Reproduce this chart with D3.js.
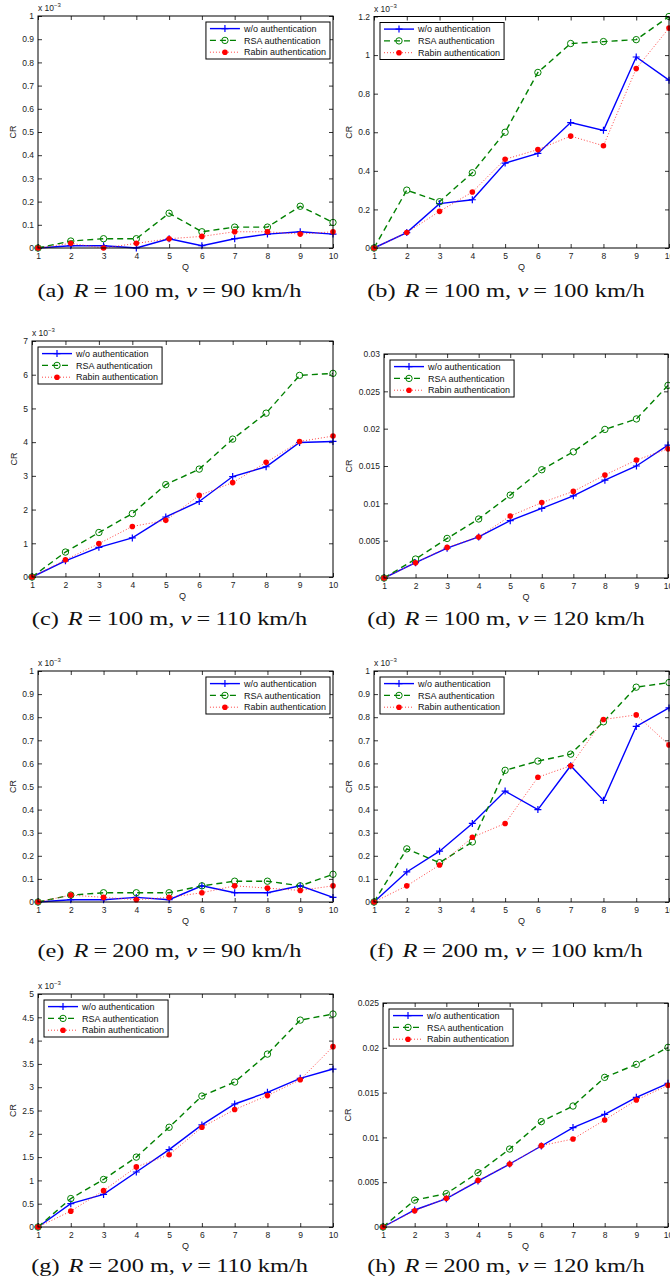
<!DOCTYPE html>
<html><head><meta charset="utf-8">
<script src="https://cdn.jsdelivr.net/npm/d3@7"></script>
<style>
body{margin:0;background:#fff}
svg{display:block}
.tick text{font-family:"Liberation Sans",Arial,sans-serif;font-size:8.5px;fill:#222}
.lbl{font-family:"Liberation Sans",Arial,sans-serif;font-size:9px;fill:#222}
.leg{font-family:"Liberation Sans",Arial,sans-serif;font-size:9px;fill:#111}
.cap{font-family:"Liberation Serif","Times New Roman",serif;font-size:19px;fill:#111}
</style>
</head><body>
<svg id="chart" width="670" height="1280"></svg>
<script>
// ---------------- data ----------------
const qValues = [1,2,3,4,5,6,7,8,9,10];
const seriesNames = ["w/o authentication","RSA authentication","Rabin authentication"];
const panelIds = ["a","b","c","d","e","f","g","h"];
const radiusM = [100,100,100,100,200,200,200,200];
const speedKmh = [90,100,110,120,90,100,110,120];
const yExponent = [-3,-3,-3,0,-3,-3,-3,0];
const yTicks = [
  [0,0.1,0.2,0.3,0.4,0.5,0.6,0.7,0.8,0.9,1],
  [0,0.2,0.4,0.6,0.8,1,1.2],
  [0,1,2,3,4,5,6,7],
  [0,0.005,0.01,0.015,0.02,0.025,0.03],
  [0,0.1,0.2,0.3,0.4,0.5,0.6,0.7,0.8,0.9,1],
  [0,0.1,0.2,0.3,0.4,0.5,0.6,0.7,0.8,0.9,1],
  [0,0.5,1,1.5,2,2.5,3,3.5,4,4.5,5],
  [0,0.005,0.01,0.015,0.02,0.025]
];
const woAuth = [
  [0,0.01,0.01,0,0.04,0.01,0.04,0.06,0.07,0.06],
  [0,0.08,0.23,0.25,0.44,0.49,0.65,0.61,0.99,0.87],
  [0,0.48,0.88,1.16,1.78,2.24,2.98,3.27,3.99,4.02],
  [0,0.00205,0.0040,0.0055,0.00768,0.00933,0.0110,0.0131,0.0150,0.0178],
  [0,0.01,0.01,0.02,0.01,0.07,0.04,0.04,0.07,0.02],
  [0,0.13,0.22,0.34,0.48,0.40,0.59,0.44,0.76,0.84],
  [0,0.50,0.70,1.18,1.66,2.19,2.64,2.89,3.19,3.39],
  [0,0.0019,0.00316,0.00513,0.00703,0.00904,0.0111,0.01257,0.01447,0.01603]
];
const rsaAuth = [
  [0,0.03,0.04,0.04,0.15,0.07,0.09,0.09,0.18,0.11],
  [0,0.30,0.24,0.39,0.60,0.91,1.06,1.07,1.08,1.20],
  [0,0.74,1.32,1.88,2.74,3.20,4.09,4.86,5.98,6.04],
  [0,0.00254,0.0053,0.0079,0.0111,0.0145,0.0169,0.0199,0.0213,0.0258],
  [0,0.03,0.04,0.04,0.04,0.07,0.09,0.09,0.07,0.12],
  [0,0.23,0.17,0.26,0.57,0.61,0.64,0.78,0.93,0.95],
  [0,0.61,1.02,1.50,2.14,2.81,3.11,3.71,4.44,4.57],
  [0,0.0030,0.00372,0.00606,0.0087,0.01176,0.0135,0.0167,0.01815,0.02005]
];
const rabinAuth = [
  [0,0.02,0,0.02,0.04,0.05,0.07,0.07,0.06,0.07],
  [0,0.08,0.19,0.29,0.46,0.51,0.58,0.53,0.93,1.14],
  [0,0.51,0.99,1.50,1.68,2.42,2.80,3.40,4.02,4.18],
  [0,0.00205,0.0041,0.0055,0.0083,0.0101,0.0116,0.0138,0.0158,0.0173],
  [0,0.03,0.02,0.01,0.02,0.04,0.07,0.06,0.05,0.07],
  [0,0.07,0.16,0.28,0.34,0.54,0.59,0.79,0.81,0.68],
  [0,0.34,0.78,1.29,1.55,2.14,2.52,2.82,3.16,3.87],
  [0,0.00182,0.0032,0.0052,0.00703,0.00908,0.00982,0.01194,0.01417,0.01581]
];

// ---------------- layout ----------------
const layout = [
  {l:38, t:16,  r:333, b:248,  leg:"right", cx:169.5, cap:297},
  {l:374,t:16.5,r:669, b:248,  leg:"left",  cx:506,   cap:297},
  {l:32, t:341, r:333, b:577,  leg:"left",  cx:169.5, cap:625},
  {l:384,t:354, r:668, b:578,  leg:"left",  cx:506,   cap:625},
  {l:38, t:671, r:333, b:902,  leg:"right", cx:169.5, cap:957},
  {l:374,t:671, r:669, b:902,  leg:"left",  cx:506,   cap:957},
  {l:38, t:994, r:333, b:1227, leg:"left",  cx:169.5, cap:1272},
  {l:383,t:1003,r:668, b:1227, leg:"left",  cx:506,   cap:1272}
];
const colors = ["#0000ff","#008000","#ff0000"];
const fmt = v => String(+v.toFixed(6));

const svg = d3.select("#chart");

function marker(g, k, px, py){
  if(k===0){
    g.append("path").attr("d",`M${px-3.5},${py}H${px+3.5}M${px},${py-3.5}V${py+3.5}`)
      .attr("stroke",colors[0]).attr("stroke-width",1.2).attr("fill","none");
  } else if(k===1){
    g.append("circle").attr("cx",px).attr("cy",py).attr("r",3.2)
      .attr("fill","none").attr("stroke",colors[1]).attr("stroke-width",1);
  } else {
    g.append("circle").attr("cx",px).attr("cy",py).attr("r",2.8).attr("fill",colors[2]);
  }
}
function styleLine(sel,k){
  if(k===0) sel.attr("stroke",colors[0]).attr("stroke-width",1.4);
  else if(k===1) sel.attr("stroke",colors[1]).attr("stroke-width",1.4).attr("stroke-dasharray","6,4");
  else sel.attr("stroke","#ff3030").attr("stroke-width",0.9).attr("stroke-dasharray","1,2");
}

const capGroups = [];

layout.forEach((p,i)=>{
  const g = svg.append("g");
  const ticks = yTicks[i];
  const x = d3.scaleLinear().domain([1,10]).range([p.l,p.r]);
  const y = d3.scaleLinear().domain([0,ticks[ticks.length-1]]).range([p.b,p.t]);

  // axes with inward ticks on all four sides
  const ab = g.append("g").attr("transform",`translate(0,${p.b})`)
    .call(d3.axisBottom(x).tickValues(qValues).tickSizeInner(-4).tickSizeOuter(0).tickPadding(4.5));
  const at = g.append("g").attr("transform",`translate(0,${p.t})`)
    .call(d3.axisTop(x).tickValues(qValues).tickSizeInner(-4).tickSizeOuter(0).tickFormat(""));
  const al = g.append("g").attr("transform",`translate(${p.l},0)`)
    .call(d3.axisLeft(y).tickValues(ticks).tickSizeInner(-4).tickSizeOuter(0).tickPadding(4).tickFormat(fmt));
  const ar = g.append("g").attr("transform",`translate(${p.r},0)`)
    .call(d3.axisRight(y).tickValues(ticks).tickSizeInner(-4).tickSizeOuter(0).tickFormat(""));
  [ab,at,al,ar].forEach(a=>{
    a.attr("font-size",null).attr("font-family",null);
    a.select(".domain").remove();
    a.selectAll(".tick line").attr("stroke","#000").attr("stroke-width",0.8);
  });

  // series
  const series = [woAuth[i], rsaAuth[i], rabinAuth[i]];
  const line = d3.line().x((d,j)=>x(qValues[j])).y(d=>y(d));
  series.forEach((s,k)=>{
    const path = g.append("path").datum(s).attr("d",line).attr("fill","none");
    styleLine(path,k);
  });
  series.forEach((s,k)=>{
    s.forEach((v,j)=>marker(g,k,x(qValues[j]),y(v)));
  });

  // box
  g.append("rect").attr("x",p.l).attr("y",p.t).attr("width",p.r-p.l).attr("height",p.b-p.t)
    .attr("fill","none").attr("stroke","#000").attr("stroke-width",1);

  // exponent label
  if(yExponent[i]!==0){
    const t = g.append("text").attr("class","lbl").attr("x",p.l).attr("y",p.t-5).style("font-size","8.5px");
    t.append("tspan").text("x 10");
    t.append("tspan").attr("dy",-4).style("font-size","6px").text(String(yExponent[i]).replace("-","\u2212"));
  }

  // axis labels
  g.append("text").attr("class","lbl").attr("x",(p.l+p.r)/2).attr("y",p.b+22)
    .attr("text-anchor","middle").text("Q");
  const bb = al.node().getBBox();
  const crx = p.l + bb.x - 9.5;
  g.append("text").attr("class","lbl").attr("transform",`translate(${crx},${(p.t+p.b)/2}) rotate(-90)`)
    .attr("text-anchor","middle").attr("dy","0.35em").text("CR");

  // legend
  const lg = g.append("g");
  const rowH = 11.8, boxH = 37;
  const texts = seriesNames.map((n,k)=>lg.append("text").attr("class","leg").attr("x",38).attr("y",6.6+k*rowH).attr("dy","0.35em").text(n));
  const tw = d3.max(texts, t=>t.node().getComputedTextLength());
  const boxW = 38 + tw + 4;
  lg.insert("rect",":first-child").attr("x",0).attr("y",0).attr("width",boxW).attr("height",boxH)
    .attr("fill","#fff").attr("stroke","#000").attr("stroke-width",1);
  seriesNames.forEach((n,k)=>{
    const yy = 6.6+k*rowH;
    const lp = lg.append("path").attr("d",`M4,${yy}H34`).attr("fill","none");
    styleLine(lp,k);
    marker(lg,k,19,yy);
  });
  const lx = p.leg==="right" ? p.r-3-boxW : p.l+6;
  lg.attr("transform",`translate(${lx},${p.t+6})`);

  // caption
  const cg = svg.append("g");
  const ct = cg.append("text").attr("class","cap").attr("x",0).attr("y",0).attr("text-anchor","middle");
  ct.append("tspan").text(`(${panelIds[i]})`);
  ct.append("tspan").attr("dx",7).style("font-style","italic").text("R");
  ct.append("tspan").attr("dx",4).text("=");
  ct.append("tspan").attr("dx",4).text(`${radiusM[i]} m,`);
  ct.append("tspan").attr("dx",5).style("font-style","italic").text("v");
  ct.append("tspan").attr("dx",4).text("=");
  ct.append("tspan").attr("dx",4).text(`${speedKmh[i]} km/h`);
  capGroups.push({g:cg, t:ct, cx:p.cx, cy:p.cap});
});

// horizontal stretch of captions so that panel (c)'s caption spans ~276px
const refW = capGroups[2].t.node().getBBox().width;
const sx = 276/refW;
capGroups.forEach(c=>{
  c.g.attr("transform",`translate(${c.cx},${c.cy}) scale(${sx},1)`);
});
</script>
</body></html>
